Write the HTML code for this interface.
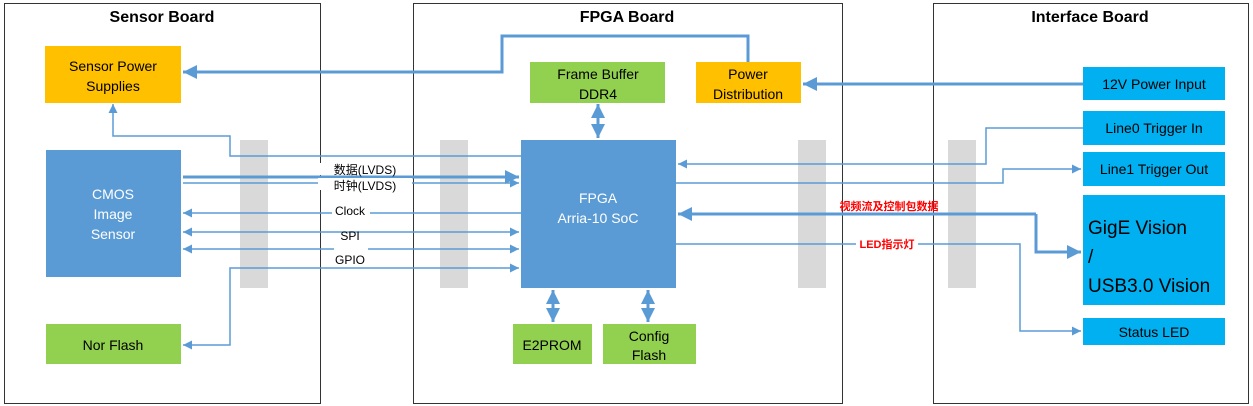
<!DOCTYPE html>
<html><head><meta charset="utf-8"><style>
html,body{margin:0;padding:0;background:#fff;}
svg{display:block;font-family:"Liberation Sans","Noto Sans CJK SC",sans-serif;}
</style></head><body>
<svg width="1253" height="406" viewBox="0 0 1253 406" xmlns="http://www.w3.org/2000/svg">
<defs>
<marker id="a" viewBox="0 0 10 10" refX="10" refY="5" markerWidth="9" markerHeight="9" markerUnits="userSpaceOnUse" orient="auto-start-reverse"><path d="M0,0L10,5L0,10z" fill="#5B9BD5"/></marker>
<marker id="b" viewBox="0 0 10 10" refX="10" refY="5" markerWidth="14" markerHeight="14" markerUnits="userSpaceOnUse" orient="auto-start-reverse"><path d="M0,0L10,5L0,10z" fill="#5B9BD5"/></marker>
</defs>
<g fill="none" stroke="#333" stroke-width="1">
<rect x="4.5" y="3.5" width="316" height="400"/>
<rect x="413.5" y="3.5" width="429" height="400"/>
<rect x="933.5" y="3.5" width="315" height="400"/>
</g>
<g font-weight="bold" font-size="16" text-anchor="middle" fill="#000">
<text x="162" y="22">Sensor Board</text>
<text x="627" y="22">FPGA Board</text>
<text x="1090" y="22">Interface Board</text>
</g>
<g fill="#D9D9D9">
<rect x="240" y="140" width="28" height="148"/>
<rect x="440" y="140" width="28" height="148"/>
<rect x="798" y="140" width="28" height="148"/>
<rect x="948" y="140" width="28" height="148"/>
</g>
<rect x="45" y="46" width="136" height="57" fill="#FFC000"/>
<rect x="46" y="150" width="135" height="127" fill="#5B9BD5"/>
<rect x="46" y="324" width="135" height="40" fill="#92D050"/>
<rect x="521" y="140" width="155" height="148" fill="#5B9BD5"/>
<rect x="530" y="62" width="135" height="41" fill="#92D050"/>
<rect x="696" y="62" width="105" height="41" fill="#FFC000"/>
<rect x="513" y="324" width="79" height="40" fill="#92D050"/>
<rect x="603" y="324" width="93" height="40" fill="#92D050"/>
<rect x="1083" y="67" width="142" height="33" fill="#00B0F0"/>
<rect x="1083" y="111" width="142" height="34" fill="#00B0F0"/>
<rect x="1083" y="152" width="142" height="34" fill="#00B0F0"/>
<rect x="1083" y="195" width="142" height="110" fill="#00B0F0"/>
<rect x="1083" y="318" width="142" height="27" fill="#00B0F0"/>
<g font-size="14" text-anchor="middle" fill="#000">
<text x="113" y="71">Sensor Power</text>
<text x="113" y="91">Supplies</text>
<text x="113" y="350">Nor Flash</text>
<text x="598" y="79">Frame Buffer</text>
<text x="598" y="99">DDR4</text>
<text x="748" y="79">Power</text>
<text x="748" y="99">Distribution</text>
<text x="552" y="350">E2PROM</text>
<text x="649" y="341">Config</text>
<text x="649" y="360">Flash</text>
<text x="1154" y="89">12V Power Input</text>
<text x="1154" y="133">Line0 Trigger In</text>
<text x="1154" y="174">Line1 Trigger Out</text>
<text x="1154" y="337">Status LED</text>
</g>
<g font-size="14" text-anchor="middle" fill="#fff">
<text x="113" y="199">CMOS</text>
<text x="113" y="219">Image</text>
<text x="113" y="239">Sensor</text>
<text x="598" y="203">FPGA</text>
<text x="598" y="223">Arria-10 SoC</text>
</g>
<g font-size="19" fill="#000">
<text x="1088" y="234">GigE Vision</text>
<text x="1088" y="263">/</text>
<text x="1088" y="292">USB3.0 Vision</text>
</g>
<g fill="none" stroke="#5B9BD5">
<path d="M748,62V36H502V72H183" stroke-width="3" marker-end="url(#b)"/>
<path d="M1083,84H803" stroke-width="3" marker-end="url(#b)"/>
<path d="M521,156H230V136H113V104" stroke-width="1.5" marker-end="url(#a)"/>
<path d="M183,177H519" stroke-width="3" marker-end="url(#b)"/>
<path d="M183,183H519" stroke-width="1.5" marker-end="url(#a)"/>
<path d="M521,213H183" stroke-width="1.5" marker-end="url(#a)"/>
<path d="M183,232H519" stroke-width="1.5" marker-start="url(#a)" marker-end="url(#a)"/>
<path d="M183,249H519" stroke-width="1.5" marker-start="url(#a)" marker-end="url(#a)"/>
<path d="M519,268H230V345H183" stroke-width="1.5" marker-start="url(#a)" marker-end="url(#a)"/>
<path d="M598,104V138" stroke-width="3" marker-start="url(#b)" marker-end="url(#b)"/>
<path d="M553,290V322" stroke-width="3" marker-start="url(#b)" marker-end="url(#b)"/>
<path d="M648,290V322" stroke-width="3" marker-start="url(#b)" marker-end="url(#b)"/>
<path d="M1083,128H986V164H678" stroke-width="1.5" marker-end="url(#a)"/>
<path d="M676,183H1003V169H1081" stroke-width="1.5" marker-end="url(#a)"/>
<path d="M1036,214H678" stroke-width="3" marker-end="url(#b)"/>
<path d="M1036,214V252H1081" stroke-width="3" marker-end="url(#b)"/>
<path d="M676,244H1020V331H1081" stroke-width="1.5" marker-end="url(#a)"/>
</g>
<g font-size="12" text-anchor="middle" fill="#000">
<rect x="318" y="163" width="94" height="12" fill="#fff"/>
<text x="365" y="174">数据(LVDS)</text>
<rect x="318" y="178" width="94" height="12" fill="#fff"/>
<text x="365" y="190">时钟(LVDS)</text>
<rect x="332" y="205" width="38" height="11" fill="#fff"/>
<text x="350" y="215">Clock</text>
<text x="350" y="240">SPI</text>
<rect x="334" y="245" width="34" height="8" fill="#fff"/>
<text x="350" y="264">GPIO</text>
</g>
<g font-size="11" text-anchor="middle" fill="#FF0000" font-weight="bold">
<text x="889" y="210">视频流及控制包数据</text>
<rect x="856" y="238" width="62" height="11" fill="#fff"/>
<text x="887" y="248">LED指示灯</text>
</g>
</svg>
</body></html>
